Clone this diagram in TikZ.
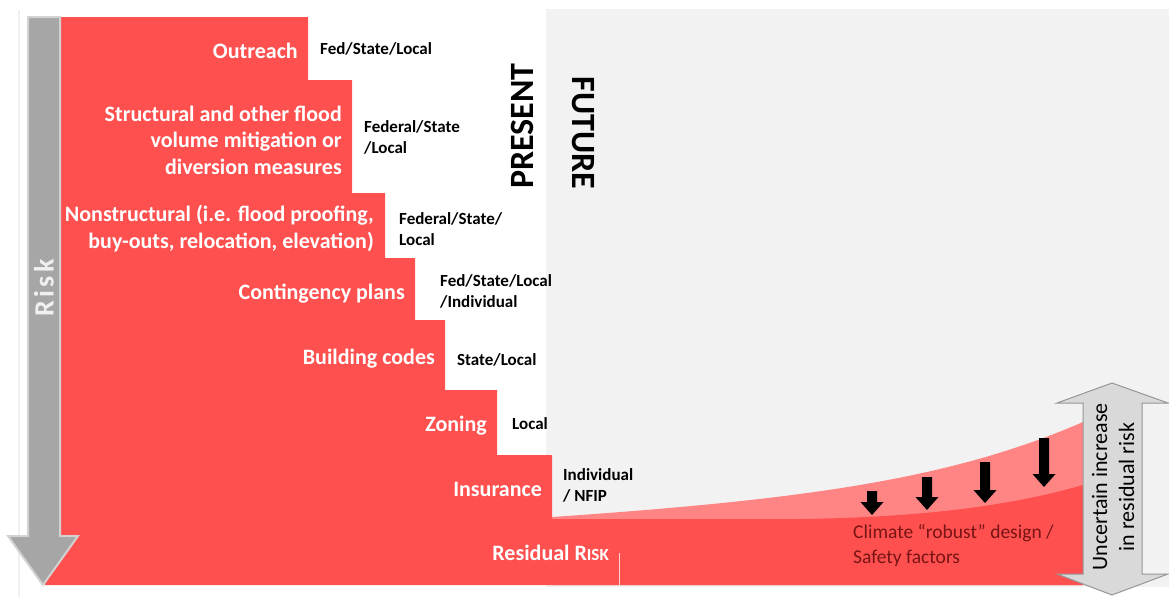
\documentclass[tikz,border=0pt]{standalone}
\usepackage{fontspec}
\setmainfont{Carlito}
\definecolor{riskred}{RGB}{255,80,80}
\definecolor{pinkred}{RGB}{255,133,133}
\definecolor{futgrey}{RGB}{242,242,242}
\definecolor{arrgrey}{RGB}{166,166,166}
\definecolor{arrline}{RGB}{210,210,210}
\definecolor{dblfill}{RGB}{217,217,217}
\definecolor{dblline}{RGB}{150,150,150}
\definecolor{darkred}{RGB}{120,20,20}
\tikzset{
  wlab/.style={text=white, font=\fontsize{22}{26.5}\selectfont\bfseries, align=right, inner sep=0pt, anchor=base east},
  blab/.style={text=black, font=\fontsize{17}{21}\selectfont\bfseries, align=left, inner sep=0pt, anchor=base west},
  bigword/.style={text=black, font=\fontsize{34}{34}\selectfont\bfseries, inner sep=0pt},
  downarrow/.style={fill=black, draw=none},
}
\begin{document}
\begin{tikzpicture}[x=1pt,y=-1pt]
\useasboundingbox (0,0) rectangle (1169,597);
\fill[white] (0,0) rectangle (1169,597);
% faint frame line on the left
\draw[gray!12, line width=1.5] (19,10) -- (19,597);
% future background
\fill[futgrey] (546,9) rectangle (1169,587);
% pink (climate) band
\fill[pinkred] (552,517) .. controls (800,500) and (950,480) .. (1083,422) -- (1083,585) -- (552,585) -- cycle;
% main red staircase
\fill[riskred] (45,17) -- (308,17) -- (308,80) -- (352,80) -- (352,193) -- (385,193) -- (385,258)
  -- (415,258) -- (415,320) -- (445,320) -- (445,390) -- (497,390) -- (497,455) -- (552,455)
  -- (552,519) -- (800,519) .. controls (950,517) and (1030,500) .. (1083,485) -- (1083,585) -- (45,585) -- cycle;
\draw[white!75!riskred, line width=0.8] (619,553) -- (619,585);
% risk arrow
\draw[fill=arrgrey, draw=arrline, line width=2] (28,17) -- (60,17) -- (60,536) -- (78,536) -- (43,585) -- (8,536) -- (28,536) -- cycle;
\node[text=white!94!black, font=\fontsize{28}{28}\selectfont\bfseries, rotate=90, inner sep=0pt] (risk) at (44,288) {R\kern3.5pt i\kern3.5pt s\kern3.5pt k};
% white labels (base anchor = baseline of last line)
\node[wlab] (outreach) at (298,58) {Outreach};
\node[wlab] (structural) at (342,174) {Structural and other flood\\volume mitigation or\\diversion measures};
\node[wlab] (nonstruct) at (374,248) {Nonstructural (i.e. flood proofing,\\buy-outs, relocation, elevation)};
\node[wlab] (conting) at (405,299) {Contingency plans};
\node[wlab] (building) at (435,364) {Building codes};
\node[wlab] (zoning) at (487,431) {Zoning};
\node[wlab] (insurance) at (542,496) {Insurance};
\node[wlab] (residual) at (609,560) {Residual R{\fontsize{17}{17}\selectfont ISK}};
% black labels
\node[blab] (l1) at (320,54) {Fed/State/Local};
\node[blab] (l2) at (364,153) {Federal/State\\/Local};
\node[blab] (l3) at (399,245) {Federal/State/\\Local};
\node[blab] (l4) at (440,307) {Fed/State/Local\\/Individual};
\node[blab] (l5) at (457,365) {State/Local};
\node[blab] (l6) at (512,429) {Local};
\node[blab] (l7) at (563,501) {Individual\\/ NFIP};
% present / future
\node[bigword, rotate=90] (present) at (522,126) {PRESENT};
\node[bigword, rotate=-90] (future) at (583,133) {FUTURE};
% black down arrows
\foreach \x/\t/\b in {872/491/515, 927/477/510, 985/462/503, 1044/438/487}{
  \fill[downarrow] (\x-5,\t) -- (\x+5,\t) -- (\x+5,\b-13) -- (\x+11.5,\b-13) -- (\x,\b) -- (\x-11.5,\b-13) -- (\x-5,\b-13) -- cycle;
}
\node[text=darkred, font=\fontsize{19.5}{24.5}\selectfont, align=left, inner sep=0pt, anchor=base west] (climate) at (853,563) {Climate “robust” design /\\Safety factors};
% double arrow
\draw[fill=dblfill, draw=dblline, line width=1] (1112,383) -- (1168,403) -- (1142,403) -- (1142,574) -- (1168,574) -- (1112,595) -- (1057,574) -- (1083,574) -- (1083,403) -- (1057,403) -- cycle;
\node[text=black, font=\fontsize{22}{27}\selectfont, align=center, rotate=90, inner sep=0pt] (uncert) at (1113,487) {Uncertain increase\\in residual risk};
\end{tikzpicture}
\end{document}
